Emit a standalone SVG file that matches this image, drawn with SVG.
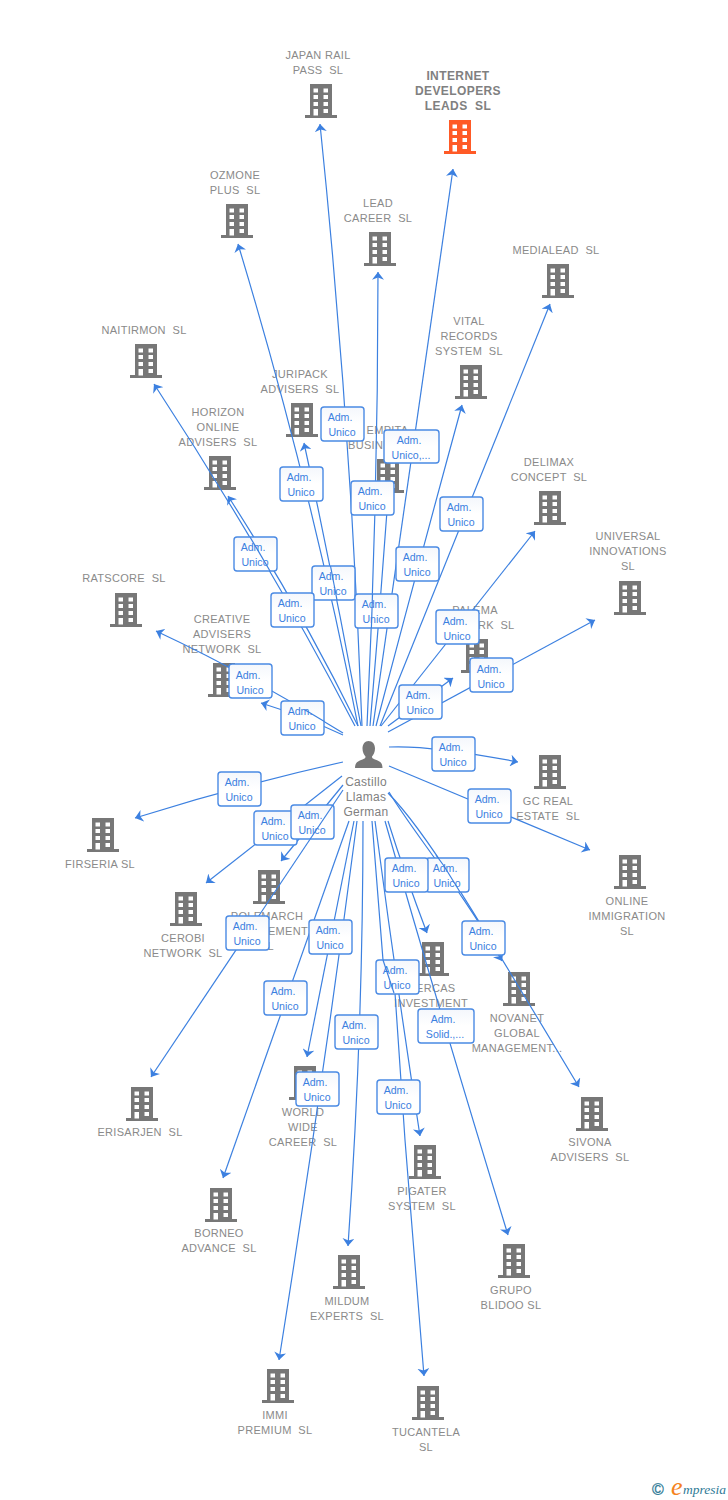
<svg xmlns="http://www.w3.org/2000/svg" width="728" height="1500" viewBox="0 0 728 1500">
<style>
text{font-family:"Liberation Sans",Arial,sans-serif;white-space:pre}
.l{font-size:11px;letter-spacing:.3px;fill:#8a8a8a;text-anchor:middle}
.m{font-size:12px;letter-spacing:.4px;font-weight:bold;fill:#808080;text-anchor:middle}
.p{font-size:12px;letter-spacing:.3px;fill:#808080;text-anchor:middle}
.c{fill:none;stroke:#3c80e0;stroke-width:1.2;marker-end:url(#a)}
.o{fill:none;stroke:#3c80e0;stroke-width:1.2}
.b{fill:url(#g);stroke:#4a8ae4;stroke-width:1.4}
.t{font-size:10.6px;fill:#3c80e0;text-anchor:middle}
</style>
<defs>
<linearGradient id="g" x1="0" y1="0" x2="0" y2="1"><stop offset="0" stop-color="#f4f7fc"/><stop offset=".5" stop-color="#fff"/></linearGradient>
<marker id="a" markerUnits="userSpaceOnUse" markerWidth="8" markerHeight="12" viewBox="0 0 7 11" refX="7" refY="5.5" orient="auto"><path d="M7,5.5 L0,0 L2,5.5 L0,11Z" fill="#3c80e0"/></marker>
<symbol id="h" overflow="visible"><path fill-rule="evenodd" d="M-11,0H11V31H16V34H-16V31H-11ZM-7.5,4.5V8.5H-3V4.5ZM2.5,4.5V8.5H7V4.5ZM-7.5,11V15H-3V11ZM2.5,11V15H7V11ZM-7.5,18V22H-3V18ZM2.5,18V22H7V18ZM-7.5,25V31.5H-3V25ZM2.5,25V29H7V25Z"/></symbol>
</defs>
<g id="n-japan" fill="#777"><use href="#h" x="321" y="84"/><text class="l" x="318" y="59">JAPAN RAIL</text><text class="l" x="318" y="74">PASS  SL</text></g>
<g id="n-internet" fill="#ff5a26"><use href="#h" x="460" y="120"/><text class="m" x="458" y="80">INTERNET</text><text class="m" x="458" y="95">DEVELOPERS</text><text class="m" x="458" y="110">LEADS  SL</text></g>
<g id="n-ozmone" fill="#777"><use href="#h" x="237" y="204"/><text class="l" x="235" y="179">OZMONE</text><text class="l" x="235" y="194">PLUS  SL</text></g>
<g id="n-lead" fill="#777"><use href="#h" x="380" y="232"/><text class="l" x="378" y="207">LEAD</text><text class="l" x="378" y="222">CAREER  SL</text></g>
<g id="n-medialead" fill="#777"><use href="#h" x="558" y="264"/><text class="l" x="556" y="254">MEDIALEAD  SL</text></g>
<g id="n-vital" fill="#777"><use href="#h" x="471" y="365"/><text class="l" x="469" y="325">VITAL</text><text class="l" x="469" y="340">RECORDS</text><text class="l" x="469" y="355">SYSTEM  SL</text></g>
<g id="n-naitirmon" fill="#777"><use href="#h" x="146" y="344"/><text class="l" x="144" y="334">NAITIRMON  SL</text></g>
<g id="n-juripack" fill="#777"><use href="#h" x="302" y="403"/><text class="l" x="300" y="378">JURIPACK</text><text class="l" x="300" y="393">ADVISERS  SL</text></g>
<g id="n-horizon" fill="#777"><use href="#h" x="220" y="456"/><text class="l" x="218" y="416">HORIZON</text><text class="l" x="218" y="431">ONLINE</text><text class="l" x="218" y="446">ADVISERS  SL</text></g>
<g id="n-empita" fill="#777"><use href="#h" x="388" y="459"/><text class="l" x="387.5" y="434">EMPITA</text><text class="l" x="387.5" y="449">BUSINESS  SL</text></g>
<g id="n-delimax" fill="#777"><use href="#h" x="550" y="491"/><text class="l" x="549" y="466">DELIMAX</text><text class="l" x="549" y="481">CONCEPT  SL</text></g>
<g id="n-universal" fill="#777"><use href="#h" x="630" y="581"/><text class="l" x="628" y="540">UNIVERSAL</text><text class="l" x="628" y="555">INNOVATIONS</text><text class="l" x="628" y="570">SL</text></g>
<g id="n-ratscore" fill="#777"><use href="#h" x="126" y="593"/><text class="l" x="124" y="582">RATSCORE  SL</text></g>
<g id="n-palema" fill="#777"><use href="#h" x="477" y="639"/><text class="l" x="475" y="614">PALEMA</text><text class="l" x="475" y="629">NETWORK  SL</text></g>
<g id="n-creative" fill="#777"><use href="#h" x="224" y="663"/><text class="l" x="222" y="623">CREATIVE</text><text class="l" x="222" y="638">ADVISERS</text><text class="l" x="222" y="653">NETWORK  SL</text></g>
<g id="n-gcreal" fill="#777"><use href="#h" x="550" y="755"/><text class="l" x="548" y="805">GC REAL</text><text class="l" x="548" y="820">ESTATE  SL</text></g>
<g id="n-online" fill="#777"><use href="#h" x="630" y="855"/><text class="l" x="627" y="905">ONLINE</text><text class="l" x="627" y="920">IMMIGRATION</text><text class="l" x="627" y="935">SL</text></g>
<g id="n-firseria" fill="#777"><use href="#h" x="103" y="818"/><text class="l" x="100" y="868">FIRSERIA SL</text></g>
<g id="n-cerobi" fill="#777"><use href="#h" x="186" y="892"/><text class="l" x="183" y="942">CEROBI</text><text class="l" x="183" y="957">NETWORK  SL</text></g>
<g id="n-polemarch" fill="#777"><use href="#h" x="269" y="870"/><text class="l" x="267" y="920">POLEMARCH</text><text class="l" x="267" y="935">MANAGEMENT</text><text class="l" x="267" y="950">SL</text></g>
<g id="n-ercas" fill="#777"><use href="#h" x="433" y="942"/><text class="l" x="431" y="992">MERCAS</text><text class="l" x="431" y="1007">INVESTMENT</text><text class="l" x="431" y="1022">SL</text></g>
<g id="n-novanet" fill="#777"><use href="#h" x="519" y="972"/><text class="l" x="517" y="1022">NOVANET</text><text class="l" x="517" y="1037">GLOBAL</text><text class="l" x="517" y="1052">MANAGEMENT...</text></g>
<g id="n-sivona" fill="#777"><use href="#h" x="592" y="1097"/><text class="l" x="590" y="1146">SIVONA</text><text class="l" x="590" y="1161">ADVISERS  SL</text></g>
<g id="n-erisarjen" fill="#777"><use href="#h" x="142" y="1087"/><text class="l" x="140" y="1136">ERISARJEN  SL</text></g>
<g id="n-world" fill="#777"><use href="#h" x="305" y="1066"/><text class="l" x="303" y="1116">WORLD</text><text class="l" x="303" y="1131">WIDE</text><text class="l" x="303" y="1146">CAREER  SL</text></g>
<g id="n-pigater" fill="#777"><use href="#h" x="425" y="1145"/><text class="l" x="422" y="1195">PIGATER</text><text class="l" x="422" y="1210">SYSTEM  SL</text></g>
<g id="n-borneo" fill="#777"><use href="#h" x="221" y="1188"/><text class="l" x="219" y="1237">BORNEO</text><text class="l" x="219" y="1252">ADVANCE  SL</text></g>
<g id="n-grupo" fill="#777"><use href="#h" x="514" y="1244"/><text class="l" x="511" y="1294">GRUPO</text><text class="l" x="511" y="1309">BLIDOO SL</text></g>
<g id="n-mildum" fill="#777"><use href="#h" x="349" y="1255"/><text class="l" x="347" y="1305">MILDUM</text><text class="l" x="347" y="1320">EXPERTS  SL</text></g>
<g id="n-immi" fill="#777"><use href="#h" x="278" y="1369"/><text class="l" x="275" y="1419">IMMI</text><text class="l" x="275" y="1434">PREMIUM  SL</text></g>
<g id="n-tucantela" fill="#777"><use href="#h" x="428" y="1386"/><text class="l" x="426" y="1436">TUCANTELA</text><text class="l" x="426" y="1451">SL</text></g>
<g id="person" fill="#777"><path d="M368.5,741c4,0 6.5,3 6.5,7.5c0,3.5 -1.5,6.5 -3,8c0,1.5 .5,2 3,3c4,1.5 7.5,2.5 7.5,8.5H355c0,-6 3.5,-7 7.5,-8.5c2.5,-1 3,-1.5 3,-3c-1.5,-1.5 -3,-4.5 -3,-8c0,-4.5 2.5,-7.5 6,-7.5Z"/><text class="p" x="366" y="786">Castillo</text><text class="p" x="366" y="801">Llamas</text><text class="p" x="366" y="816">German</text></g>
<g id="connectors">
<path class="c" d="M362,726Q351,425 320,124"/>
<path class="c" d="M358,726Q311,485 238,244"/>
<path class="c" d="M361,726Q335,585 304,443"/>
<path class="c" d="M367,726Q378,500 378,272"/>
<path class="c" d="M370,726Q380,610 388,497"/>
<path class="c" d="M373,726L453,169"/>
<path class="c" d="M376,726Q417,570 462,405"/>
<path class="c" d="M380,726L550,304"/>
<path class="c" d="M381,726L535,531"/>
<path class="c" d="M355,726Q266,555 154,384"/>
<path class="c" d="M358,726Q301,610 228,496"/>
<path class="c" d="M343,735Q300,715 261,703"/>
<path class="c" d="M343,733Q250,675 156,631"/>
<path class="c" d="M343,762Q240,785 135,818"/>
<path class="c" d="M342,776L206,883"/>
<path class="c" d="M343,785L281,861"/>
<path class="c" d="M343,790L151,1077"/>
<path class="c" d="M349,821L223,1178"/>
<path class="c" d="M354,821L307,1057"/>
<path class="c" d="M357,821Q322,1090 279,1360"/>
<path class="c" d="M363,821Q363,1030 348,1246"/>
<path class="c" d="M372,821L383,960L395,993L405,1140L424,1376"/>
<path class="c" d="M375,821Q396,980 420,1136"/>
<path class="c" d="M385,821Q442,1020 508,1235"/>
<path class="c" d="M388,821Q405,875 427,933"/>
<path class="c" d="M388,793C425,830 470,905 579,1087"/>
<path class="c" d="M389,792C410,828 462,890 502,961"/>
<path class="c" d="M389,766L590,850"/>
<path class="c" d="M389,747Q430,745 518,762"/>
<path class="c" d="M388,732L595,620"/>
<path class="c" d="M388,726L453,678"/>
</g>
<g id="edge-labels">
<g><rect class="b" x="321" y="407" width="43" height="34" rx="3"/><text class="t" x="340" y="421">Adm.</text><text class="t" x="342" y="436">Unico</text></g>
<g><rect class="b" x="384" y="430" width="55" height="33" rx="3"/><text class="t" x="409" y="444">Adm.</text><text class="t" x="411" y="459">Unico,...</text></g>
<g><rect class="b" x="280" y="467" width="43" height="34" rx="3"/><text class="t" x="299" y="481">Adm.</text><text class="t" x="301" y="496">Unico</text></g>
<g><rect class="b" x="351" y="481" width="43" height="34" rx="3"/><text class="t" x="370" y="495">Adm.</text><text class="t" x="372" y="510">Unico</text></g>
<g><rect class="b" x="440" y="497" width="43" height="34" rx="3"/><text class="t" x="459" y="511">Adm.</text><text class="t" x="461" y="526">Unico</text></g>
<g><rect class="b" x="234" y="537" width="43" height="34" rx="3"/><text class="t" x="253" y="551">Adm.</text><text class="t" x="255" y="566">Unico</text></g>
<g><rect class="b" x="396" y="547" width="43" height="34" rx="3"/><text class="t" x="415" y="561">Adm.</text><text class="t" x="417" y="576">Unico</text></g>
<g><rect class="b" x="312" y="566" width="43" height="34" rx="3"/><text class="t" x="331" y="580">Adm.</text><text class="t" x="333" y="595">Unico</text></g>
<g><rect class="b" x="271" y="593" width="43" height="34" rx="3"/><text class="t" x="290" y="607">Adm.</text><text class="t" x="292" y="622">Unico</text></g>
<g><rect class="b" x="355" y="594" width="43" height="34" rx="3"/><text class="t" x="374" y="608">Adm.</text><text class="t" x="376" y="623">Unico</text></g>
<g><rect class="b" x="436" y="610" width="43" height="34" rx="3"/><text class="t" x="455" y="625">Adm.</text><text class="t" x="457" y="640">Unico</text></g>
<g><rect class="b" x="470" y="658" width="43" height="34" rx="3"/><text class="t" x="489" y="673">Adm.</text><text class="t" x="491" y="688">Unico</text></g>
<g><rect class="b" x="229" y="664" width="43" height="34" rx="3"/><text class="t" x="248" y="679">Adm.</text><text class="t" x="250" y="694">Unico</text></g>
<g><rect class="b" x="399" y="685" width="43" height="34" rx="3"/><text class="t" x="418" y="699">Adm.</text><text class="t" x="420" y="714">Unico</text></g>
<g><rect class="b" x="281" y="701" width="43" height="34" rx="3"/><text class="t" x="300" y="715">Adm.</text><text class="t" x="302" y="730">Unico</text></g>
<g><rect class="b" x="432" y="737" width="43" height="34" rx="3"/><text class="t" x="451" y="751">Adm.</text><text class="t" x="453" y="766">Unico</text></g>
<g><rect class="b" x="218" y="772" width="43" height="34" rx="3"/><text class="t" x="237" y="786">Adm.</text><text class="t" x="239" y="801">Unico</text></g>
<g><rect class="b" x="468" y="789" width="43" height="34" rx="3"/><text class="t" x="487" y="803">Adm.</text><text class="t" x="489" y="818">Unico</text></g>
<g><rect class="b" x="254" y="811" width="43" height="34" rx="3"/><text class="t" x="273" y="825">Adm.</text><text class="t" x="275" y="840">Unico</text></g>
<g><rect class="b" x="291" y="805" width="43" height="34" rx="3"/><text class="t" x="310" y="819">Adm.</text><text class="t" x="312" y="834">Unico</text></g>
<g><rect class="b" x="426" y="858" width="43" height="34" rx="3"/><text class="t" x="445" y="872">Adm.</text><text class="t" x="447" y="887">Unico</text></g>
<g><rect class="b" x="385" y="858" width="43" height="34" rx="3"/><text class="t" x="404" y="872">Adm.</text><text class="t" x="406" y="887">Unico</text></g>
<g><rect class="b" x="226" y="916" width="43" height="34" rx="3"/><text class="t" x="245" y="930">Adm.</text><text class="t" x="247" y="945">Unico</text></g>
<g><rect class="b" x="309" y="920" width="43" height="34" rx="3"/><text class="t" x="328" y="934">Adm.</text><text class="t" x="330" y="949">Unico</text></g>
<g><rect class="b" x="462" y="921" width="43" height="34" rx="3"/><text class="t" x="481" y="935">Adm.</text><text class="t" x="483" y="950">Unico</text></g>
<g><rect class="b" x="376" y="960" width="43" height="34" rx="3"/><text class="t" x="395" y="974">Adm.</text><text class="t" x="397" y="989">Unico</text></g>
<g><rect class="b" x="264" y="981" width="43" height="34" rx="3"/><text class="t" x="283" y="995">Adm.</text><text class="t" x="285" y="1010">Unico</text></g>
<g><rect class="b" x="418" y="1009" width="56" height="34" rx="3"/><text class="t" x="443" y="1023">Adm.</text><text class="t" x="445" y="1038">Solid.,...</text></g>
<g><rect class="b" x="335" y="1015" width="43" height="34" rx="3"/><text class="t" x="354" y="1029">Adm.</text><text class="t" x="356" y="1044">Unico</text></g>
<g><rect class="b" x="296" y="1072" width="43" height="34" rx="3"/><text class="t" x="315" y="1086">Adm.</text><text class="t" x="317" y="1101">Unico</text></g>
<g><rect class="b" x="377" y="1080" width="43" height="34" rx="3"/><text class="t" x="396" y="1094">Adm.</text><text class="t" x="398" y="1109">Unico</text></g>
</g>
<g id="connectors-over-labels">
<path class="o" d="M436,855L444,866L460,892"/>
<path class="o" d="M250,537L270,571"/>
<path class="o" d="M330.5,566L337,600"/>
<path class="o" d="M372.5,594L371.4,628"/>
<path class="o" d="M304.8,709.8L324.4,721.5"/>
<path class="o" d="M333,805L310.2,839"/>
<path class="o" d="M383,960L394,993"/>
</g>
<g id="logo">
<text x="652" y="1495" font-size="16" fill="#2f7a96" stroke="#2f7a96" stroke-width=".3">©</text>
<text x="671" y="1495" font-size="26" font-style="italic" style="font-family:'Liberation Serif',serif" fill="#f58220">e</text>
<text x="683" y="1494" font-size="13.5" font-style="italic" style="font-family:'Liberation Serif',serif" fill="#2f7a96">mpresia</text>
</g>
</svg>
